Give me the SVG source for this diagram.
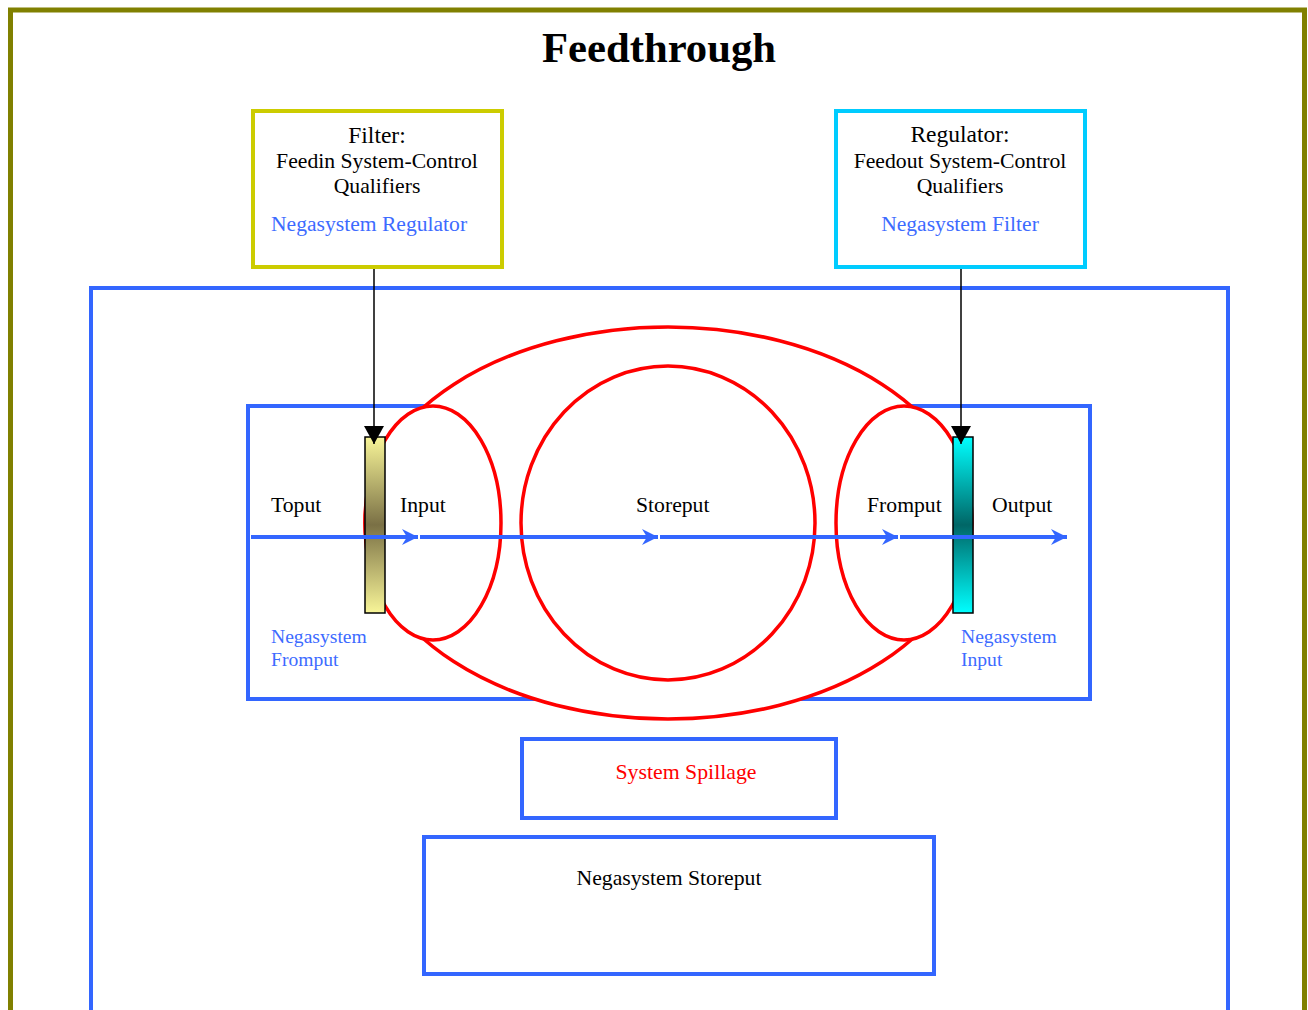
<svg xmlns="http://www.w3.org/2000/svg" width="1308" height="1010" viewBox="0 0 1308 1010">
<defs>
<style>
text{font-family:"Liberation Serif","Times New Roman",serif;fill:#000}
.blk{font-size:21.7px}
.big{font-size:23.5px}
.blu{fill:#3d6bff;font-size:21.6px}
.sm{fill:#3d6bff;font-size:19.6px}
.box{fill:none;stroke:#3366ff;stroke-width:4}
.red{fill:#fff;stroke:#ff0000;stroke-width:3.5}
.flow{stroke:#3366ff;stroke-width:4;fill:none;marker-end:url(#ba)}
.drop{stroke:#000;stroke-width:1.5;fill:none;marker-end:url(#ka)}
</style>
<marker id="ba" markerUnits="userSpaceOnUse" markerWidth="18" markerHeight="16" refX="16" refY="8" orient="auto">
<path d="M0,0 L16,8 L0,16 L5,8 z" fill="#3366ff"/>
</marker>
<marker id="ka" markerUnits="userSpaceOnUse" markerWidth="18" markerHeight="20" refX="18" refY="10" orient="auto">
<path d="M0,0 L18,10 L0,20 z" fill="#000"/>
</marker>
<linearGradient id="gy" x1="0" y1="0" x2="0" y2="1">
<stop offset="0" stop-color="#f8f598"/>
<stop offset="0.5" stop-color="#7a7045"/>
<stop offset="1" stop-color="#f8f598"/>
</linearGradient>
<linearGradient id="gc" x1="0" y1="0" x2="0" y2="1">
<stop offset="0" stop-color="#00ffff"/>
<stop offset="0.5" stop-color="#006666"/>
<stop offset="1" stop-color="#00ffff"/>
</linearGradient>
</defs>
<rect width="1308" height="1010" fill="#fff"/>
<rect x="10.5" y="10" width="1294" height="1040" fill="none" stroke="#808000" stroke-width="5"/>
<text x="659" y="62" text-anchor="middle" style="font-size:42.7px;font-weight:bold">Feedthrough</text>

<g id="system-box"><rect class="box" x="91" y="288" width="1137" height="760"/></g>
<g id="feedthrough-box"><rect class="box" x="248" y="406" width="842" height="293"/></g>

<g id="outer-loop"><ellipse class="red" cx="668" cy="523" rx="303" ry="196"/></g>
<g id="input-loop"><ellipse class="red" cx="433" cy="523" rx="68" ry="117"/></g>
<g id="storeput-loop"><ellipse class="red" cx="668" cy="523" rx="147" ry="157"/></g>
<g id="fromput-loop"><ellipse class="red" cx="904" cy="523" rx="68" ry="117"/></g>

<g id="filter-bar"><rect x="365" y="437" width="20" height="176" fill="url(#gy)" stroke="#000" stroke-width="1.5"/></g>
<g id="regulator-bar"><rect x="953" y="437" width="20" height="176" fill="url(#gc)" stroke="#000" stroke-width="1.5"/></g>

<g id="connectors">
<line class="flow" x1="251" y1="537" x2="418" y2="537"/>
<line class="flow" x1="420" y1="537" x2="658" y2="537"/>
<line class="flow" x1="660" y1="537" x2="898" y2="537"/>
<line class="flow" x1="900" y1="537" x2="1067" y2="537"/>
<line class="drop" x1="374" y1="268" x2="374" y2="444"/>
<line class="drop" x1="961" y1="268" x2="961" y2="444"/>
</g>

<g id="filter">
<rect x="253" y="111" width="249" height="156" fill="none" stroke="#cccc00" stroke-width="4"/>
<text class="big" x="377" y="143" text-anchor="middle">Filter:</text>
<text class="blk" x="377" y="168" text-anchor="middle">Feedin System-Control</text>
<text class="blk" x="377" y="193" text-anchor="middle">Qualifiers</text>
<text class="blu" x="271" y="231">Negasystem Regulator</text>
</g>
<g id="regulator">
<rect x="836" y="111" width="249" height="156" fill="none" stroke="#00ccff" stroke-width="4"/>
<text class="big" x="960" y="142" text-anchor="middle">Regulator:</text>
<text class="blk" x="960" y="168" text-anchor="middle">Feedout System-Control</text>
<text class="blk" x="960" y="193" text-anchor="middle">Qualifiers</text>
<text class="blu" x="960" y="231" text-anchor="middle">Negasystem Filter</text>
</g>

<g id="labels">
<text class="blk" x="271" y="512">Toput</text>
<text class="blk" x="400" y="512">Input</text>
<text class="blk" x="636" y="512">Storeput</text>
<text class="blk" x="867" y="512">Fromput</text>
<text class="blk" x="992" y="512">Output</text>
<text class="sm" x="271" y="643">Negasystem</text>
<text class="sm" x="271" y="666">Fromput</text>
<text class="sm" x="961" y="643">Negasystem</text>
<text class="sm" x="961" y="666">Input</text>
</g>

<g id="system-spillage">
<rect class="box" x="522" y="739" width="314" height="79"/>
<text x="686" y="779" text-anchor="middle" style="font-size:21.8px;fill:#ff0000">System Spillage</text>
</g>
<g id="negasystem-storeput">
<rect class="box" x="424" y="837" width="510" height="137"/>
<text class="blk" x="669" y="885" text-anchor="middle">Negasystem Storeput</text>
</g>
</svg>
